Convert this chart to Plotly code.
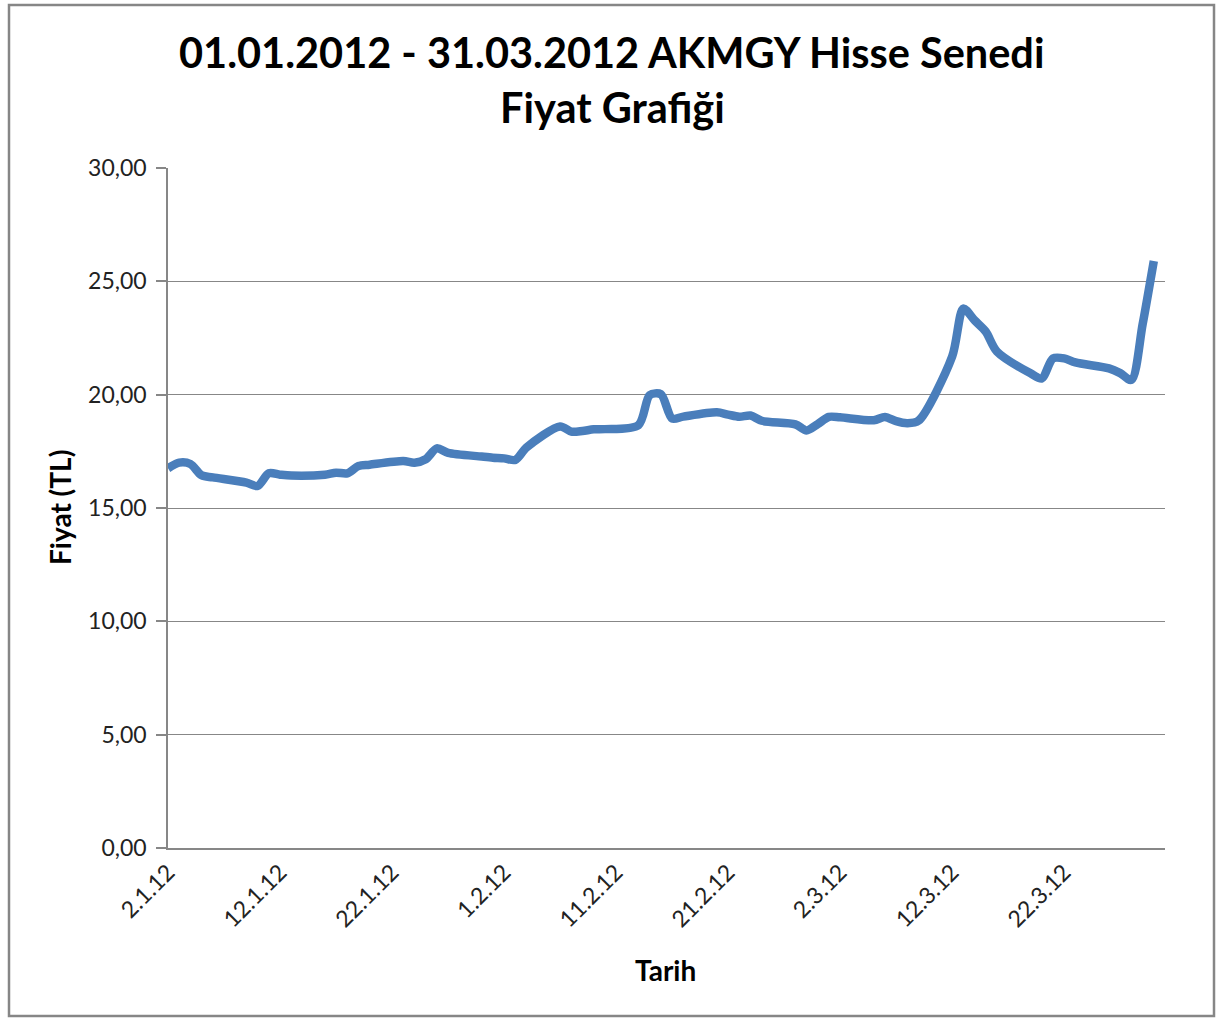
import plotly.graph_objects as go

dates = [
    "2012-01-02", "2012-01-03", "2012-01-04", "2012-01-05", "2012-01-06",
    "2012-01-09", "2012-01-10", "2012-01-11", "2012-01-12", "2012-01-13",
    "2012-01-16", "2012-01-17", "2012-01-18", "2012-01-19", "2012-01-20",
    "2012-01-23", "2012-01-24", "2012-01-25", "2012-01-26", "2012-01-27",
    "2012-01-30", "2012-01-31", "2012-02-01", "2012-02-02", "2012-02-03",
    "2012-02-06", "2012-02-07", "2012-02-08", "2012-02-09", "2012-02-10",
    "2012-02-13", "2012-02-14", "2012-02-15", "2012-02-16", "2012-02-17",
    "2012-02-20", "2012-02-21", "2012-02-22", "2012-02-23", "2012-02-24",
    "2012-02-27", "2012-02-28", "2012-02-29", "2012-03-01", "2012-03-02",
    "2012-03-05", "2012-03-06", "2012-03-07", "2012-03-08", "2012-03-09",
    "2012-03-12", "2012-03-13", "2012-03-14", "2012-03-15", "2012-03-16",
    "2012-03-19", "2012-03-20", "2012-03-21", "2012-03-22", "2012-03-23",
    "2012-03-26", "2012-03-27", "2012-03-28", "2012-03-29", "2012-03-30",
]

prices = [
    16.75, 17.00, 16.94, 16.44, 16.35,
    16.12, 15.97, 16.53, 16.47, 16.43,
    16.47, 16.56, 16.53, 16.85, 16.91,
    17.07, 17.00, 17.15, 17.63, 17.43,
    17.27, 17.22, 17.19, 17.12, 17.67,
    18.60, 18.37, 18.40, 18.47, 18.48,
    18.66, 19.98, 20.02, 18.95, 19.03,
    19.22, 19.12, 19.03, 19.08, 18.85,
    18.69, 18.42, 18.70, 19.02, 19.00,
    18.87, 19.02, 18.83, 18.74, 18.85,
    21.68, 23.80, 23.28, 22.78, 21.90,
    20.94, 20.72, 21.60, 21.60, 21.42,
    21.16, 20.95, 20.65, 23.10, 25.90,
]

y_ticks = [0, 5, 10, 15, 20, 25, 30]
title_lines = ["01.01.2012 - 31.03.2012 AKMGY Hisse Senedi", "Fiyat Grafiği"]
x_title = "Tarih"
y_title = "Fiyat (TL)"

FONT = "Lato"
GRID = "#878787"
TXT = "#222222"

# plot area in page pixels: x 168..1165, y 168..848
PL, PR, PT, PB = 168, 1165, 168, 848


def px(xp):
    return (xp - PL) / (PR - PL)


def py(yp):
    return (PB - yp) / (PB - PT)


fig = go.Figure()
fig.add_trace(go.Scatter(
    x=dates, y=prices, mode="lines",
    line=dict(color="#4a7ebb", width=8.5, shape="spline", smoothing=0.8),
    showlegend=False, hoverinfo="x+y",
))

bold = dict(family=FONT, color="black", weight="bold")

fig.update_layout(
    width=1217, height=1019,
    margin=dict(l=PL, r=1217 - PR, t=PT, b=1019 - PB),
    paper_bgcolor="white", plot_bgcolor="white",
    separators=",.",
    font=dict(family=FONT, color=TXT),
    xaxis=dict(
        type="date",
        range=["2012-01-02", "2012-03-31"],
        tick0="2012-01-02", dtick=10 * 86400000,
        tickformat="%-d.%-m.%y", tickangle=-45,
        tickfont=dict(family=FONT, size=23, color=TXT),
        showgrid=False, showline=True, linecolor=GRID, linewidth=1.5,
        ticks="", zeroline=False, fixedrange=True,
    ),
    yaxis=dict(
        range=[0, 30], tickvals=y_ticks, tickformat=".2f",
        tickfont=dict(family=FONT, size=23, color=TXT),
        showgrid=True, gridcolor=GRID, gridwidth=1,
        showline=True, linecolor=GRID, linewidth=1.5,
        ticks="outside", ticklen=10, tickcolor=GRID, tickwidth=1.5,
        ticklabelstandoff=5,
        zeroline=False, fixedrange=True,
    ),
    annotations=[
        dict(text=title_lines[0], xref="paper", yref="paper", x=px(611), y=py(52),
             xanchor="center", yanchor="middle", showarrow=False,
             font=dict(size=41.5, **bold)),
        dict(text=title_lines[1], xref="paper", yref="paper", x=px(612), y=py(107),
             xanchor="center", yanchor="middle", showarrow=False,
             font=dict(size=41.5, **bold)),
        dict(text=x_title, xref="paper", yref="paper", x=px(665), y=py(970),
             xanchor="center", yanchor="middle", showarrow=False,
             font=dict(size=28, **bold)),
        dict(text=y_title, xref="paper", yref="paper", x=px(60), y=py(508),
             xanchor="center", yanchor="middle", textangle=-90, showarrow=False,
             font=dict(size=28, **bold)),
    ],
    shapes=[
        dict(type="rect", xref="paper", yref="paper",
             x0=px(9), x1=px(1214), y0=py(1016), y1=py(5),
             line=dict(color="#868686", width=2.5), fillcolor="rgba(0,0,0,0)",
             layer="below"),
    ],
)

fig.write_html(
    "out.html",
    config={"displayModeBar": False},
    post_script="document.body.style.margin='0';document.body.style.padding='0';",
)
